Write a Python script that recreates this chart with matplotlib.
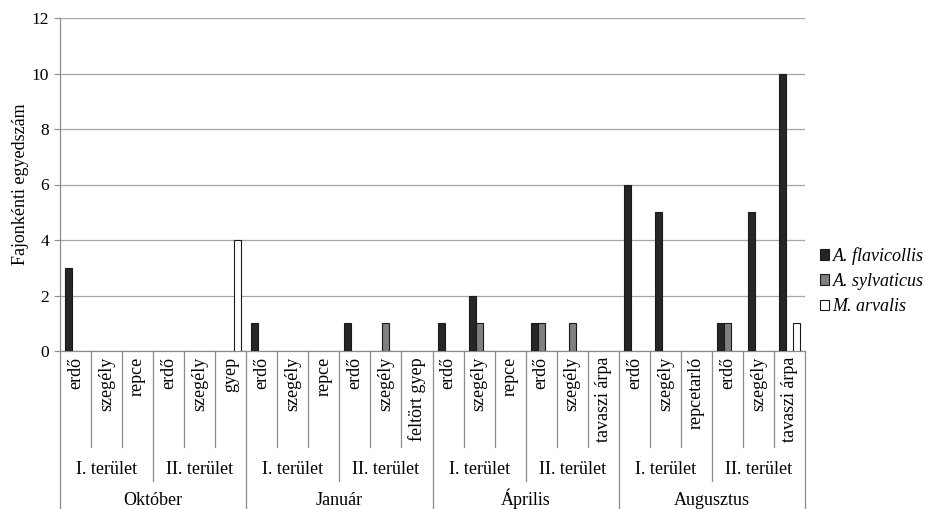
import numpy as np
import matplotlib
matplotlib.use("Agg")
import matplotlib.pyplot as plt
from matplotlib import transforms
from matplotlib.lines import Line2D
from matplotlib.patches import Patch

plt.rcParams['font.family'] = ['Liberation Serif', 'DejaVu Serif']

months = ["Október", "Január", "Április", "Augusztus"]
areas = ["I. terület", "II. terület"]
habitats = [
    ["erdő", "szegély", "repce", "erdő", "szegély", "gyep"],
    ["erdő", "szegély", "repce", "erdő", "szegély", "feltört gyep"],
    ["erdő", "szegély", "repce", "erdő", "szegély", "tavaszi árpa"],
    ["erdő", "szegély", "repcetarló", "erdő", "szegély", "tavaszi árpa"],
]
series_names = ["A. flavicollis", "A. sylvaticus", "M. arvalis"]
flavicollis = [3, 0, 0, 0, 0, 0, 1, 0, 0, 1, 0, 0, 1, 2, 0, 1, 0, 0, 6, 5, 0, 1, 5, 10]
sylvaticus = [0, 0, 0, 0, 0, 0, 0, 0, 0, 0, 1, 0, 0, 1, 0, 1, 1, 0, 0, 0, 0, 1, 0, 0]
arvalis = [0, 0, 0, 0, 0, 4, 0, 0, 0, 0, 0, 0, 0, 0, 0, 0, 0, 0, 0, 0, 0, 0, 0, 1]
colors = ["#262626", "#808080", "#ffffff"]

FS = 13
W, H = 926, 509
fig = plt.figure(figsize=(W / 100, H / 100), dpi=100)
x0, x1, ytop, ybot = 60, 805, 18, 351
ax = fig.add_axes([x0 / W, 1 - ybot / H, (x1 - x0) / W, (ybot - ytop) / H])

n = len(flavicollis)
x = np.arange(n)
bw = 0.225
for i, (vals, c) in enumerate(zip([flavicollis, sylvaticus, arvalis], colors)):
    v = np.array(vals, dtype=float)
    v[v == 0] = np.nan
    ax.bar(x + (i - 1) * bw, v, width=bw, color=c, edgecolor="#1a1a1a",
           linewidth=0.8, zorder=3, label=series_names[i])

ax.set_xlim(-0.5, n - 0.5)
ax.set_ylim(0, 12)
ax.set_yticks(range(0, 13, 2))
ax.tick_params(axis='y', labelsize=12.5, length=4.5, color="#8c8c8c", pad=3.5)
ax.set_xticks([])
ax.yaxis.grid(True, color="#a6a6a6", linewidth=0.9, zorder=0)
ax.set_axisbelow(True)
for s in ["top", "right"]:
    ax.spines[s].set_visible(False)
for s in ["left", "bottom"]:
    ax.spines[s].set_color("#8c8c8c")
    ax.spines[s].set_linewidth(0.9)
ax.set_ylabel("Fajonkénti egyedszám", fontsize=FS, labelpad=2)

tr = transforms.blended_transform_factory(ax.transData, fig.transFigure)
def fy(py):
    return 1 - py / H

lc = "#8c8c8c"
labels = [h for grp in habitats for h in grp]
for i, lab in enumerate(labels):
    ax.text(i, fy(357), lab, rotation=90, ha='center', va='top', fontsize=FS,
            transform=tr)
for b in range(n + 1):
    xb = b - 0.5
    if b % 6 == 0:
        yend = 509
    elif b % 3 == 0:
        yend = 481
    else:
        yend = 447
    fig.add_artist(Line2D([xb, xb], [fy(ybot), fy(yend)], transform=tr,
                          color=lc, linewidth=0.9))
for m in range(4):
    for a in range(2):
        c = m * 6 + a * 3 + 1
        ax.text(c, fy(470), areas[a], ha='center', va='center', fontsize=FS,
                transform=tr)
    ax.text(m * 6 + 2.5, fy(505), months[m], ha='center', va='baseline',
            fontsize=FS, transform=tr)

handles = [Patch(facecolor=c, edgecolor="#1a1a1a", linewidth=0.8) for c in colors]
leg = fig.legend(handles, series_names, loc='center left',
                 bbox_to_anchor=(820 / W, fy(281)), frameon=False,
                 borderaxespad=0, borderpad=0,
                 handlelength=0.5, handleheight=0.5, handletextpad=0.2,
                 labelspacing=0.45, prop={'style': 'italic', 'size': FS})

fig.savefig("out.png", dpi=100)
